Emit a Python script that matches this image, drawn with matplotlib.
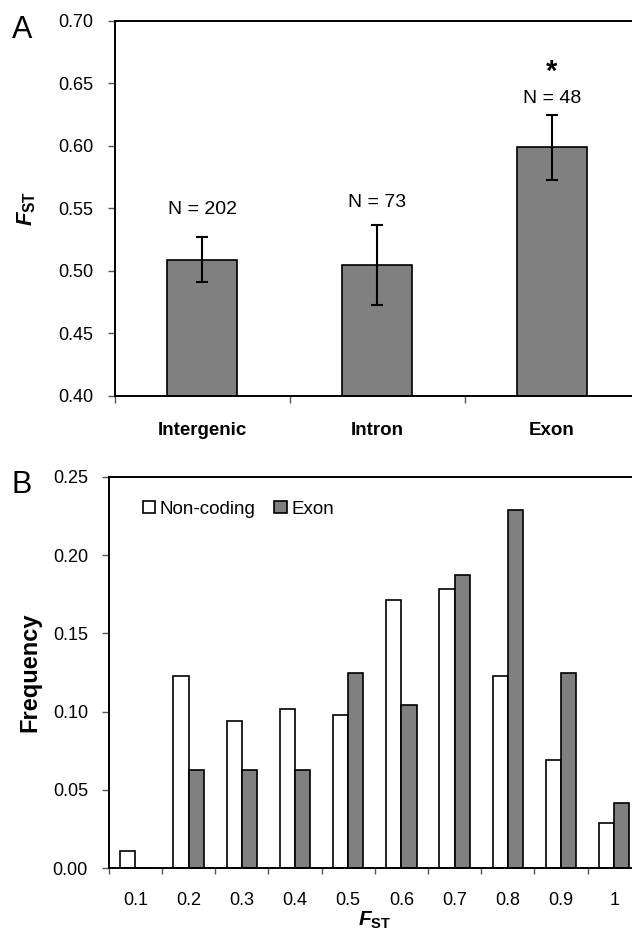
import matplotlib
matplotlib.use("Agg")
import matplotlib.pyplot as plt
import numpy as np

plt.rcParams['font.family'] = ['Liberation Sans', 'DejaVu Sans']
plt.rcParams['mathtext.fontset'] = 'custom'
plt.rcParams['mathtext.it'] = 'Liberation Sans:italic:bold'
plt.rcParams['mathtext.bf'] = 'Liberation Sans:bold'
plt.rcParams['mathtext.rm'] = 'Liberation Sans:bold'

# ---------------- Data ----------------
# Panel A
regions = ["Intergenic", "Intron", "Exon"]
fst_mean = [0.509, 0.505, 0.599]
fst_err = [0.018, 0.032, 0.026]
n_labels = ["N = 202", "N = 73", "N = 48"]
n_label_y = [0.549, 0.555, 0.638]
star_y = 0.659

# Panel B
bins = ["0.1", "0.2", "0.3", "0.4", "0.5", "0.6", "0.7", "0.8", "0.9", "1"]
noncoding = [0.011, 0.123, 0.094, 0.102, 0.098, 0.171, 0.178, 0.123, 0.069, 0.029]
exon = [0.0, 0.0625, 0.0625, 0.0625, 0.125, 0.104, 0.1875, 0.229, 0.125, 0.042]

W, H = 632, 931
fig = plt.figure(figsize=(W / 100, H / 100), dpi=100)

def fx(px):
    return px / W

def fy(py):
    return 1 - py / H

GREY = '#808080'
SPINE_LW = 1.4

# ---------------- Panel A ----------------
a_left, a_right, a_top, a_bot = 114.5, 639.5, 20.7, 396.0
axA = fig.add_axes([fx(a_left), fy(a_bot), (a_right - a_left) / W, (a_bot - a_top) / H])
xa = np.arange(len(regions))
axA.bar(xa, fst_mean, width=0.4, color=GREY, edgecolor='black', linewidth=1.2, zorder=2)
axA.errorbar(xa, fst_mean, yerr=fst_err, fmt='none', ecolor='black', elinewidth=1.5,
             capsize=4, capthick=1.5, zorder=3)
for i, (lab, yy) in enumerate(zip(n_labels, n_label_y)):
    axA.text(xa[i], yy, lab, ha='center', va='center', fontsize=14)
axA.text(xa[2], star_y, '*', ha='center', va='center', fontsize=21, fontweight='bold')
axA.set_xlim(-0.5, 2.5)
axA.set_ylim(0.40, 0.70)
axA.set_yticks(np.arange(0.40, 0.701, 0.05))
axA.set_yticklabels([f"{v:.2f}" for v in np.arange(0.40, 0.701, 0.05)], fontsize=13)
axA.set_xticks(np.arange(-0.5, 2.51, 1.0))
axA.set_xticklabels([])
axA.set_xticks(xa, minor=True)
axA.set_xticklabels(regions, minor=True, fontsize=13.5, fontweight='bold')
axA.tick_params(axis='x', which='major', direction='out', length=5, width=1.0, color='#555555')
axA.tick_params(axis='x', which='minor', length=0, pad=19)
axA.tick_params(axis='y', direction='out', length=5, width=1.0, pad=10, color='#555555')
for s in ['left', 'bottom', 'top']:
    axA.spines[s].set_linewidth(SPINE_LW)
axA.spines['right'].set_visible(False)

fig.text(fx(26.5), fy(208), r'$\mathit{F}_{\mathbf{ST}}$', rotation=90, ha='center', va='center', fontsize=16)
fig.text(fx(12), fy(38), 'A', ha='left', va='baseline', fontsize=22)

# ---------------- Panel B ----------------
b_left, b_right, b_top, b_bot = 108.8, 640.8, 476.7, 868.3
axB = fig.add_axes([fx(b_left), fy(b_bot), (b_right - b_left) / W, (b_bot - b_top) / H])
xb = np.arange(len(bins))
bw = 0.285
axB.bar(xb - bw / 2, noncoding, width=bw, color='white', edgecolor='black', linewidth=1.2,
        label='Non-coding', zorder=2)
axB.bar(xb + bw / 2, exon, width=bw, color=GREY, edgecolor='black', linewidth=1.2,
        label='Exon', zorder=2)
axB.set_xlim(-0.5, len(bins) - 0.5)
axB.set_ylim(0.0, 0.25)
yt = np.arange(0.0, 0.251, 0.05)
axB.set_yticks(yt)
axB.set_yticklabels([f"{v:.2f}" for v in yt], fontsize=13)
axB.set_xticks(np.arange(-0.5, len(bins) - 0.49, 1.0))
axB.set_xticklabels([])
axB.set_xticks(xb, minor=True)
axB.set_xticklabels(bins, minor=True, fontsize=13)
axB.tick_params(axis='x', which='major', direction='out', length=4, width=1.0, color='#555555')
axB.tick_params(axis='x', which='minor', length=0, pad=17)
axB.tick_params(axis='y', direction='out', length=5, width=1.0, pad=10, color='#555555')
for s in ['left', 'bottom', 'top']:
    axB.spines[s].set_linewidth(SPINE_LW)
axB.spines['right'].set_visible(False)

leg = axB.legend(loc='center left', bbox_to_anchor=(0.064, 0.917), ncol=2, frameon=False,
                 fontsize=13.5, handlelength=0.65, handleheight=0.65, handletextpad=0.25,
                 columnspacing=1.0, borderpad=0, borderaxespad=0)

fig.text(fx(30), fy(672.5), 'Frequency', rotation=90, ha='center', va='center',
         fontsize=17, fontweight='bold')
fig.text(fx(375), fy(910), r'$\mathit{F}_{\mathbf{ST}}$', ha='center', va='top', fontsize=15)
fig.text(fx(12), fy(493), 'B', ha='left', va='baseline', fontsize=22)

fig.savefig('out.png', dpi=100)
